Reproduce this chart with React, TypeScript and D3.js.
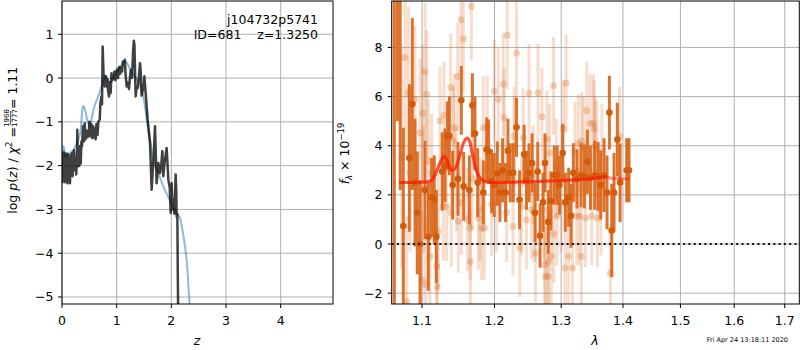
import React from 'react';
import * as d3 from 'd3';

// ---------- Left panel: log p(z) ----------
const zBlack = [0.000,0.012,0.025,0.037,0.049,0.061,0.073,0.085,0.098,0.110,0.122,0.134,0.146,0.160,0.170,0.183,0.195,0.210,0.220,0.235,0.245,0.260,0.275,0.280,0.292,0.305,0.317,0.330,0.343,0.355,0.366,0.384,0.400,0.415,0.430,0.440,0.455,0.470,0.488,0.502,0.520,0.537,0.553,0.570,0.585,0.600,0.615,0.630,0.650,0.665,0.690,0.700,0.720,0.732,0.744,0.755,0.762,0.780,0.787,0.800,0.817,0.830,0.840,0.860,0.875,0.890,0.905,0.920,0.940,0.960,0.975,0.990,1.010,1.025,1.045,1.065,1.085,1.100,1.115,1.130,1.150,1.165,1.183,1.200,1.226,1.245,1.262,1.280,1.300,1.315,1.325,1.347,1.365,1.384,1.405,1.427,1.440,1.457,1.475,1.488,1.506,1.530,1.567,1.610,1.640,1.660,1.677,1.701,1.731,1.762,1.792,1.815,1.835,1.853,1.870,1.884,1.914,1.945,1.970,1.988,2.006,2.020,2.036,2.055,2.079,2.090,2.097,2.110,2.118,2.130];
const logpBlack = [-2.40,-1.72,-2.30,-1.70,-2.38,-1.85,-2.10,-1.72,-2.40,-1.75,-2.05,-1.80,-2.40,-1.75,-2.00,-1.72,-2.24,-1.70,-1.65,-2.10,-1.90,-2.20,-1.70,-1.18,-2.02,-1.60,-2.00,-1.55,-1.95,-1.45,-1.56,-1.10,-1.45,-1.03,-1.40,-1.25,-1.20,-1.35,-1.29,-1.00,-1.33,-1.05,-1.37,-1.10,-1.35,-1.15,-1.40,-1.05,-1.30,-1.00,-0.95,-0.60,-0.42,-0.60,0.72,0.27,0.05,-0.19,-0.05,0.04,-0.19,-0.02,-0.25,-0.42,-0.10,-0.34,0.11,-0.05,0.00,0.15,-0.05,0.10,0.20,0.00,0.25,0.10,0.25,0.15,0.38,0.30,0.42,0.05,-0.19,-0.10,-0.25,0.05,0.19,0.00,0.60,0.85,0.75,-0.42,-0.20,-0.23,0.00,0.34,0.15,-0.40,-0.25,-0.27,0.04,-0.34,-0.95,-1.48,-2.55,-2.10,-1.79,-1.10,-2.40,-1.94,-2.17,-2.00,-1.67,-2.24,-2.00,-1.86,-1.60,-2.32,-2.50,-3.08,-2.40,-3.00,-2.78,-3.10,-2.20,-2.60,-3.16,-3.10,-4.50,-6.00];

const zBlue = [0.00,0.03,0.06,0.10,0.15,0.20,0.25,0.30,0.34,0.37,0.39,0.42,0.46,0.50,0.53,0.57,0.62,0.67,0.72,0.77,0.80,0.84,0.88,0.93,1.00,1.07,1.12,1.16,1.20,1.26,1.32,1.38,1.44,1.50,1.55,1.61,1.67,1.76,1.88,2.00,2.10,2.16,2.20,2.25,2.29,2.33,2.36];
const logpBlue = [-1.75,-1.55,-1.80,-1.75,-1.70,-1.65,-1.55,-1.40,-1.20,-0.75,-0.63,-0.72,-0.95,-1.10,-1.00,-0.75,-0.55,-0.40,-0.20,-0.02,0.05,-0.05,-0.10,0.00,0.12,0.25,0.36,0.38,0.32,0.15,0.05,-0.05,-0.20,-0.50,-0.95,-1.41,-1.86,-2.17,-2.55,-2.85,-3.10,-3.20,-3.45,-3.84,-4.30,-5.10,-5.60];

const zTicks = [0, 1, 2, 3, 4];
const logpTicks = [-5, -4, -3, -2, -1, 0, 1];

// ---------- Right panel: spectrum ----------
const darkWave = [1.0640,1.0680,1.0716,1.0756,1.0834,1.0873,1.0908,1.0938,1.0974,1.1040,1.1084,1.1128,1.1163,1.1190,1.1270,1.1308,1.1340,1.1367,1.1412,1.1485,1.1531,1.1564,1.1643,1.1685,1.1722,1.1760,1.1840,1.1887,1.1915,1.1958,1.1996,1.2040,1.2078,1.2117,1.2160,1.2195,1.2228,1.2272,1.2321,1.2366,1.2434,1.2469,1.2508,1.2554,1.2599,1.2639,1.2674,1.2719,1.2750,1.2800,1.2841,1.2892,1.2938,1.2973,1.3023,1.3065,1.3117,1.3155,1.3191,1.3249,1.3313,1.3367,1.3415,1.3464,1.3533,1.3588,1.3631,1.3686,1.3735,1.3774,1.3813,1.3851,1.3906,1.3952,1.4063,1.4102];
const darkFlux = [-3.0,12.0,11.0,0.73,3.50,5.70,2.50,1.27,0.00,2.20,0.30,1.90,1.80,0.30,2.95,3.20,4.40,4.40,2.40,2.65,5.85,2.35,2.20,5.65,4.50,2.50,2.10,3.85,3.77,2.55,2.40,2.87,2.10,3.00,2.10,3.80,2.90,2.90,4.75,1.80,3.65,2.60,2.90,3.30,1.27,2.95,0.34,1.70,3.30,0.90,1.75,2.80,2.80,2.40,3.70,1.70,1.90,1.15,2.90,2.65,2.80,2.75,3.35,2.70,2.80,2.75,2.40,2.80,2.10,5.35,0.55,2.10,4.25,2.50,3.00,3.00];
const darkErr = [13.0,7.0,8.8,4.0,3.0,3.5,2.6,2.5,2.6,2.0,2.2,1.6,1.8,1.9,1.6,1.5,1.4,1.6,1.4,1.5,1.4,1.4,1.4,1.3,1.5,1.4,1.3,1.3,1.3,1.3,1.3,1.3,1.2,1.3,1.2,1.3,1.2,1.2,1.2,1.2,1.2,1.2,1.2,1.2,1.2,1.2,1.3,1.2,1.2,1.3,1.2,1.2,1.2,1.2,1.2,1.2,1.2,1.3,1.2,1.2,1.3,1.3,1.3,1.3,1.4,1.4,1.4,1.5,1.5,1.5,1.9,1.6,1.5,1.6,1.3,1.3];

const lightWave = [1.0735,1.0778,1.0800,1.0821,1.0843,1.0908,1.0974,1.1000,1.1009,1.1018,1.1040,1.1045,1.1062,1.1084,1.1106,1.1128,1.1195,1.1204,1.1217,1.1240,1.1285,1.1294,1.1330,1.1385,1.1393,1.1421,1.1435,1.1467,1.1481,1.1490,1.1527,1.1532,1.1559,1.1616,1.1652,1.1660,1.1671,1.1684,1.1769,1.1790,1.1816,1.1840,1.1855,1.1896,1.1958,1.1997,1.2030,1.2054,1.2126,1.2141,1.2175,1.2185,1.2270,1.2284,1.2297,1.2321,1.2370,1.2395,1.2419,1.2469,1.2508,1.2544,1.2568,1.2594,1.2603,1.2643,1.2703,1.2730,1.2744,1.2755,1.2779,1.2796,1.2800,1.2820,1.2846,1.2881,1.2886,1.2922,1.2935,1.3000,1.3034,1.3060,1.3076,1.3112,1.3176,1.3216,1.3244,1.3270,1.3286,1.3318,1.3324,1.3350,1.3384,1.3405,1.3459,1.3486,1.3512,1.3524,1.3540,1.3568,1.3578,1.3634,1.3650,1.3790,1.3944];
const lightFlux = [3.51,7.59,-2.34,6.16,2.90,5.89,4.53,-1.46,5.32,2.22,7.01,-1.66,6.10,3.37,-0.50,2.90,-0.91,-1.77,0.52,5.01,1.54,5.24,1.51,6.37,1.27,4.19,4.73,2.63,6.82,0.93,9.13,1.67,8.34,0.99,0.65,-0.71,9.67,2.69,1.06,1.40,0.64,4.73,0.65,4.76,1.61,6.22,1.67,5.89,6.50,5.14,1.27,8.50,0.72,4.39,3.99,7.77,-0.16,1.54,4.33,0.99,6.14,1.40,2.83,1.27,-0.37,6.16,5.18,1.40,-0.84,-1.32,4.26,-1.32,-0.71,3.71,-0.50,6.44,0.41,3.10,1.13,1.67,4.69,-0.98,6.54,-0.50,-0.98,3.78,1.13,4.10,1.13,-0.50,4.19,3.99,1.06,5.43,4.91,1.13,4.91,4.67,3.99,3.85,1.06,1.54,3.71,-1.18,4.39];
const lightErr = [4.5,4.0,3.5,3.5,3.2,3.0,3.0,2.8,2.8,2.6,2.8,2.6,2.6,2.5,2.4,2.4,2.3,2.3,2.3,2.2,2.2,2.2,2.2,2.2,2.2,2.2,2.2,2.1,2.2,2.1,2.3,2.1,2.2,2.1,2.1,2.1,2.2,2.1,2.1,2.1,2.1,2.1,2.1,2.1,2.1,2.1,2.0,2.1,2.1,2.0,2.0,2.2,2.0,2.0,2.0,2.1,2.0,2.0,2.0,2.0,2.0,2.0,2.0,2.0,2.0,2.0,2.0,2.0,2.0,2.0,2.0,2.0,2.0,2.0,2.0,2.0,2.0,2.0,2.0,2.0,2.0,2.0,2.0,2.0,2.0,2.0,2.0,2.0,2.0,2.0,2.0,2.0,2.0,2.0,2.0,2.0,2.0,2.0,2.0,2.0,2.0,2.0,2.0,2.0,2.0];

const modelWave = [1.070,1.090,1.105,1.112,1.118,1.124,1.129,1.133,1.137,1.141,1.146,1.151,1.156,1.161,1.165,1.169,1.174,1.179,1.186,1.195,1.242,1.293,1.346,1.373,1.380,1.411];
const modelFlux = [2.50,2.50,2.52,2.58,2.85,3.30,3.55,3.45,3.10,3.00,3.15,3.60,4.10,4.32,4.15,3.60,3.00,2.70,2.55,2.50,2.53,2.58,2.66,2.74,2.68,2.66];
const model2End = 1.375;

const waveTicks = [1.1, 1.2, 1.3, 1.4, 1.5, 1.6, 1.7];
const fluxTicks = [-2, 0, 2, 4, 6, 8];

const FONT = "'DejaVu Sans', sans-serif";
const minus = (s: string) => s.replace('-', '\u2212');

export default function App() {
  // Left axes
  const lx = d3.scaleLinear().domain([0, 4.957]).range([62, 333]);
  const ly = d3.scaleLinear().domain([-5.16, 1.76]).range([304, 1]);
  // Right axes
  const rx = d3.scaleLog().domain([1.0607, 1.730]).range([391.7, 799.3]);
  const ry = d3.scaleLinear().domain([-2.44, 9.89]).range([304, 1]);

  const blackLine = d3.line<number>().x((_, i) => lx(zBlack[i])).y((d) => ly(d))(logpBlack) || '';
  const blueLine = d3.line<number>().x((_, i) => lx(zBlue[i])).y((d) => ly(d)).curve(d3.curveMonotoneX)(logpBlue) || '';

  const modelPts = modelWave.map((w, i) => [w, modelFlux[i]] as [number, number]);
  const modelGen = d3.line<[number, number]>().x((d) => rx(d[0])).y((d) => ry(d[1])).curve(d3.curveMonotoneX);
  const model1 = modelGen(modelPts) || '';
  const model2 = modelGen(modelPts.filter((d) => d[0] <= model2End)) || '';

  const [lx0, lx1] = lx.range();
  const [ly0, ly1] = ly.range();
  const [rx0, rx1] = rx.range();
  const [ry0, ry1] = ry.range();

  const gridColor = '#b0b0b0';
  const darkC = '#d9661a';

  return (
    <svg width={800} height={350} viewBox="0 0 800 350"
      style={{ position: 'absolute', left: 0, top: 0, background: '#fff' }}
      fontFamily={FONT}>
      <defs>
        <clipPath id="clipL"><rect x={lx0} y={ly1} width={lx1 - lx0} height={ly0 - ly1} /></clipPath>
        <clipPath id="clipR"><rect x={rx0} y={ry1} width={rx1 - rx0} height={ry0 - ry1} /></clipPath>
      </defs>
      <rect x={0} y={0} width={800} height={350} fill="#fff" />

      {/* ===== Left panel ===== */}
      <g>
        {zTicks.map((t) => (
          <line key={'gx' + t} x1={lx(t)} x2={lx(t)} y1={ly1} y2={ly0} stroke={gridColor} strokeWidth={1} />
        ))}
        {logpTicks.map((t) => (
          <line key={'gy' + t} x1={lx0} x2={lx1} y1={ly(t)} y2={ly(t)} stroke={gridColor} strokeWidth={1} />
        ))}
        <g clipPath="url(#clipL)">
          <path d={blueLine} fill="none" stroke="#1f77b4" strokeOpacity={0.5} strokeWidth={2} />
          <path d={blackLine} fill="none" stroke="#000" strokeOpacity={0.75} strokeWidth={2.5} strokeLinejoin="round" />
        </g>
        <rect x={lx0} y={ly1} width={lx1 - lx0} height={ly0 - ly1} fill="none" stroke="#000" strokeWidth={1} />
        {zTicks.map((t) => (
          <g key={'tx' + t}>
            <line x1={lx(t)} x2={lx(t)} y1={ly0} y2={ly0 + 4} stroke="#000" />
            <text x={lx(t)} y={325} textAnchor="middle" fontSize={12.5}>{t}</text>
          </g>
        ))}
        {logpTicks.map((t) => (
          <g key={'ty' + t}>
            <line x1={lx0 - 4} x2={lx0} y1={ly(t)} y2={ly(t)} stroke="#000" />
            <text x={53.5} y={ly(t) + 4.5} textAnchor="end" fontSize={12.5}>{minus(String(t))}</text>
          </g>
        ))}
        <text x={318} y={24} textAnchor="end" fontSize={12.5}>j104732p5741</text>
        <text x={318} y={38.5} textAnchor="end" fontSize={12.5} style={{ whiteSpace: 'pre' }}>{'ID=681    z=1.3250'}</text>
        <text x={197} y={345} textAnchor="middle" fontSize={12.5} fontStyle="italic">z</text>
        <g transform="translate(17,238) rotate(-90)">
          <text x={111} y={0} textAnchor="end" fontSize={12.5}>
            log <tspan fontStyle="italic">p</tspan>(<tspan fontStyle="italic">z</tspan>) / <tspan fontStyle="italic">χ</tspan>
            <tspan dy={-5} fontSize={8.5}>2</tspan><tspan dy={5}> =</tspan>
          </text>
          <text x={120} y={-8.2} textAnchor="middle" fontSize={7}>1968</text>
          <line x1={113} x2={127} y1={-6.3} y2={-6.3} stroke="#000" strokeWidth={0.7} />
          <text x={120} y={-0.2} textAnchor="middle" fontSize={7}>1777</text>
          <text x={129} y={0} textAnchor="start" fontSize={12.5}>= 1.11</text>
        </g>
      </g>

      {/* ===== Right panel ===== */}
      <g>
        {waveTicks.map((t) => (
          <line key={'rgx' + t} x1={rx(t)} x2={rx(t)} y1={ry1} y2={ry0} stroke={gridColor} strokeWidth={1} />
        ))}
        {fluxTicks.map((t) => (
          <line key={'rgy' + t} x1={rx0} x2={rx1} y1={ry(t)} y2={ry(t)} stroke={gridColor} strokeWidth={1} />
        ))}
        <g clipPath="url(#clipR)">
          {lightWave.map((w, i) => (
            <line key={'lb' + i} x1={rx(w)} x2={rx(w)} y1={ry(lightFlux[i] - lightErr[i])} y2={ry(lightFlux[i] + lightErr[i])}
              stroke={darkC} strokeOpacity={0.22} strokeWidth={3} />
          ))}
          {lightWave.map((w, i) => (
            <circle key={'ld' + i} cx={rx(w)} cy={ry(lightFlux[i])} r={3.5} fill={darkC} fillOpacity={0.28} />
          ))}
          {darkWave.map((w, i) => (
            <line key={'db' + i} x1={rx(w)} x2={rx(w)} y1={ry(darkFlux[i] - darkErr[i])} y2={ry(darkFlux[i] + darkErr[i])}
              stroke={darkC} strokeOpacity={0.92} strokeWidth={3} />
          ))}
          {darkWave.map((w, i) => (
            <circle key={'dd' + i} cx={rx(w)} cy={ry(darkFlux[i])} r={3.3} fill="#d25c0c" />
          ))}
          <path d={model1} fill="none" stroke="#ff1a00" strokeOpacity={0.45} strokeWidth={3} />
          <path d={model2} fill="none" stroke="#ff1a00" strokeOpacity={0.55} strokeWidth={3} />
          <line x1={rx0} x2={rx1} y1={ry(0)} y2={ry(0)} stroke="#111" strokeWidth={2} strokeDasharray="2,3.3" />
        </g>
        <rect x={rx0} y={ry1} width={rx1 - rx0} height={ry0 - ry1} fill="none" stroke="#000" strokeWidth={1} />
        {waveTicks.map((t) => (
          <g key={'rtx' + t}>
            <line x1={rx(t)} x2={rx(t)} y1={ry0} y2={ry0 + 4} stroke="#000" />
            <text x={rx(t)} y={325} textAnchor="middle" fontSize={12.5}>{t.toFixed(1)}</text>
          </g>
        ))}
        {fluxTicks.map((t) => (
          <g key={'rty' + t}>
            <line x1={rx0 - 4} x2={rx0} y1={ry(t)} y2={ry(t)} stroke="#000" />
            <text x={382.5} y={ry(t) + 4.5} textAnchor="end" fontSize={12.5}>{minus(String(t))}</text>
          </g>
        ))}
        <text x={595} y={345} textAnchor="middle" fontSize={12.5} fontStyle="italic">λ</text>
        <g transform="translate(349,153.5) rotate(-90)">
          <text x={0} y={0} textAnchor="middle" fontSize={12.5}>
            <tspan fontStyle="italic">f</tspan><tspan dy={3} fontSize={8.5} fontStyle="italic">λ</tspan>
            <tspan dy={-3}> × 10</tspan><tspan dy={-5.5} fontSize={8.5}>−19</tspan>
          </text>
        </g>
        <text x={788} y={342} textAnchor="end" fontSize={6.5}>Fri Apr 24 13:18:11 2020</text>
      </g>
    </svg>
  );
}
